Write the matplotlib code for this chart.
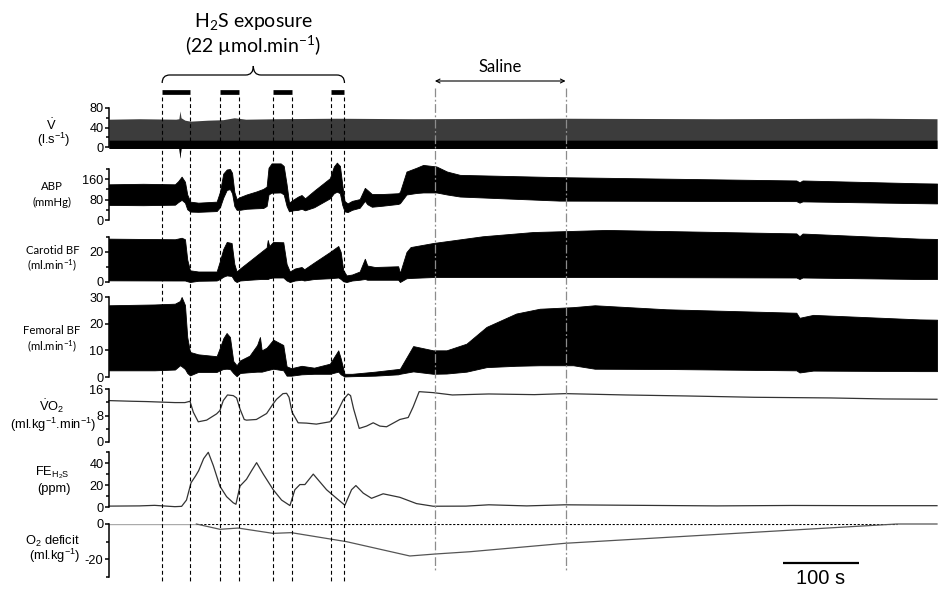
import matplotlib.pyplot as plt
from matplotlib.path import Path
from matplotlib.patches import PathPatch

plt.rcParams['font.family'] = ['Liberation Sans', 'DejaVu Sans']
plt.rcParams['mathtext.fontset'] = 'custom'
plt.rcParams['mathtext.rm'] = 'Liberation Sans'
plt.rcParams['mathtext.it'] = 'Liberation Sans:italic'
plt.rcParams['mathtext.bf'] = 'Liberation Sans:bold'
plt.rcParams['mathtext.default'] = 'regular'
plt.rcParams['axes.unicode_minus'] = False

# ---- data (time in s) ----
T_END = 1090
exp_on = [70, 146, 216, 292]
exp_off = [107, 171, 241, 310]
saline = [429, 601]
scale_bar = [887, 987]          # 100 s
deficit_zero_span = [115, 1037]

vent_t = [0, 40, 88, 92, 93.4, 94.8, 100, 107, 130, 150, 165, 180, 220, 300, 400, 600, 800, 1000, 1090]
vent_hi = [57, 58, 57, 58, 74, 60, 55, 53, 55, 56, 60, 57, 58, 59, 58, 59, 58, 59, 58]
vent_lo = [-3, -3, -3, -3, -23, -3, -3, -3, -3, -3, -3, -3, -3, -3, -3, -3, -3, -3, -3]

abp_t = [0, 45, 86.8, 91, 95.6, 100, 103, 107, 117.5, 141.7, 146, 150.4, 155, 159.2, 162, 165, 168,
         172.4, 181, 194, 203, 207.5, 210, 214, 226, 230, 233.8, 237, 242.5, 249, 253.5, 258, 270,
         290.8, 296, 300, 304, 307, 310, 314, 320, 330, 336.8, 340, 346, 360, 380.7, 383, 391.6,
         404.8, 413.6, 431, 445, 462, 593, 904.8, 909, 913, 1067, 1090]
abp_hi = [140, 142, 140, 152, 170, 150, 100, 72, 68, 72, 110, 182, 198, 200, 185, 110, 82,
          90, 100, 112, 122, 131, 205, 222, 222, 212, 140, 68, 80, 92, 98, 85, 115,
          164, 210, 225, 212, 140, 75, 65, 75, 82, 126, 118, 102, 102, 105, 110, 190,
          205, 216, 210, 190, 177, 168, 155, 148, 155, 144, 143]
abp_lo = [59, 58, 60, 70, 79, 68, 42, 33, 32, 35, 50, 88, 118, 121, 105, 55, 40,
          40, 44, 46, 47, 55, 100, 107, 108, 100, 55, 34, 38, 40, 44, 38, 50,
          85, 105, 111, 105, 60, 34, 31, 40, 48, 75, 62, 52, 56, 63, 66, 100,
          106, 108, 108, 100, 92, 76, 74, 68, 73, 66, 65]

car_t = [0, 86.8, 95.6, 100, 103, 106.6, 117.5, 141.7, 146, 150.4, 155, 161.4, 165, 168, 172.4,
         185, 200, 207.5, 209, 211, 216, 229.4, 233.8, 238, 244.7, 253.5, 257, 270, 290.8, 301.8,
         305, 308.3, 312.7, 320, 330, 336.8, 340, 350, 380.7, 383, 391.6, 397, 426.8, 492, 558,
         655, 904.8, 909, 913, 1067, 1090]
car_hi = [28.9, 28.5, 29.5, 28.5, 15, 7.8, 7, 7, 14, 22, 26.7, 26, 12, 7, 9,
          14, 20, 23, 28, 24, 26.7, 26.5, 12, 7, 9, 10, 8.5, 13, 20, 24,
          20, 8, 4.4, 5, 7, 15.5, 11, 10, 10.5, 6, 20, 23.3, 26, 30.5, 33.3,
          34.7, 32.4, 30.5, 32.3, 28.9, 28.7]
car_lo = [1.1, 1, 1, 1, 0.5, 0, 0.8, 1, 2, 3.5, 4.4, 4, 1, 0, 1,
          1.5, 2, 2, 2, 2.5, 3, 3, 1, 0, 1, 1.5, 1, 2, 2.5, 3,
          2, 0.5, 0, 1, 1.5, 2, 1.5, 1.5, 1.5, 0, 2.5, 2.7, 3.3, 3.3, 3.3,
          3.3, 3, 2, 3, 2, 2]

fem_t = [0, 60, 86.8, 93.4, 95.6, 100, 103, 106.6, 117.5, 141.7, 146, 150.4, 154.8, 159.2, 163.6,
         168, 172.4, 185, 195, 198.7, 201, 207.5, 216.2, 229.4, 233.8, 240, 253.5, 270, 290.8,
         301.8, 305, 310, 320, 350, 380.7, 383, 400.4, 426.8, 444.3, 470.6, 497, 536, 567, 611,
         639.5, 733.8, 904.8, 909, 927, 1067, 1090]
fem_hi = [26.9, 27.2, 27.5, 28.5, 30, 27, 15, 9.4, 8.5, 7.8, 11, 14.5, 16.5, 15, 6,
          4.4, 6.2, 8, 12, 15, 10, 11, 14, 12, 4, 3.3, 4.2, 3.5, 5,
          10, 7, 1.2, 1.2, 2, 3, 3.1, 11.6, 10, 10, 12.5, 18.8, 23.8, 25.6, 26.2,
          26.9, 25.4, 24.1, 22.2, 23.3, 21.6, 21.5]
fem_lo = [2.5, 2.5, 2.8, 4.4, 4, 3, 1.5, 0.6, 1.9, 1.9, 2.5, 3, 3.1, 3, 1.5,
          0.3, 1.5, 1.8, 2, 2, 2, 2.5, 3.1, 2.5, 0.5, 0.5, 1, 1.2, 1.2,
          2, 1, 0.2, 0.3, 0.5, 1, 1.2, 2.1, 1.2, 1.3, 2, 3.7, 4.2, 4.4, 4.4,
          3.1, 3, 2.5, 1.7, 2.4, 2.2, 2.2]

vo2_t = [0, 30, 50, 86.8, 100, 106.6, 111, 117.5, 128.5, 141.7, 146, 150.4, 156, 163.6, 168, 172.4,
         178, 181, 194, 207.5, 216, 220.6, 229, 233.8, 237, 241, 249, 260, 273, 290.8, 299.6, 308.3,
         314.9, 318, 322, 329.4, 339, 347.8, 356.6, 365.4, 382.9, 393.9, 400.4, 408.3, 426.8, 452,
         500, 560, 601, 680, 760, 850, 950, 1020, 1090]
vo2 = [12.5, 12.3, 12.2, 11.9, 11.9, 12.3, 9.0, 6.1, 6.6, 8.5, 9.5, 12.5, 14.2, 14.0, 13.3, 10,
       6.8, 6.6, 6.8, 8.6, 11.5, 12.9, 14.6, 14.7, 13.5, 9, 5.8, 5.7, 5.4, 6.1, 8.6, 12.7,
       14.5, 14.0, 10, 4.1, 4.8, 5.8, 4.8, 4.6, 6.8, 7.4, 10.6, 15.2, 14.9, 14.2,
       14.5, 14.3, 14.6, 14.2, 13.9, 13.5, 13.3, 13.0, 12.9]

feh2s_t = [0, 40, 60, 86.8, 95.6, 102, 108, 114, 118, 124.6, 130.7, 137.3, 146, 154.8, 163.6, 167.1,
           172.4, 181, 187.7, 194.3, 203.1, 216.2, 227.2, 238.2, 244.7, 251.3, 257.9, 268.9, 286.4,
           299.6, 310.5, 319.3, 325, 334.7, 345.6, 360.9, 382.9, 404.8, 426.8, 470, 500, 550, 600,
           700, 800, 900, 1000, 1090]
feh2s = [0.8, 1.0, 1.5, 0.3, 0.6, 6.3, 22, 28.3, 33, 44, 49.7, 37.7, 18.9, 9.4, 3.8, 2.5,
         19, 25.2, 33, 40.3, 29.9, 15.7, 6.3, 1.3, 15.7, 20.4, 20.4, 29.9, 15.7,
         7.9, 1.6, 15.7, 19.5, 12.6, 7.9, 12, 8.8, 3.1, 0.7, 0.8, 2.0, 1.0, 2.0,
         1.5, 1.0, 1.4, 1.2, 1.2]

def_t = [0, 115, 146, 170, 216, 240, 312.7, 396, 429, 475, 601, 1037, 1090]
o2_def = [0, 0, -3.0, -2.3, -5.3, -4.9, -10, -18.1, -17, -15.7, -10.9, 0, 0]

# ---- layout (pixels of the 938x591 picture) ----
W, H = 938, 591
X0, X1 = 109, 937
fig = plt.figure(figsize=(W / 100, H / 100), dpi=100)


def panel(top, bot, ylim, major, minor):
    ax = fig.add_axes([X0 / W, 1 - bot / H, (X1 - X0) / W, (bot - top) / H])
    ax.set_xlim(0, T_END)
    ax.set_ylim(*ylim)
    for s in ['top', 'right', 'bottom']:
        ax.spines[s].set_visible(False)
    ax.spines['left'].set_linewidth(1.1)
    ax.set_xticks([])
    ax.set_yticks(major)
    ax.set_yticks(minor, minor=True)
    ax.tick_params(axis='y', which='major', length=3, width=1.1, labelsize=9.2, pad=1)
    ax.tick_params(axis='y', which='minor', length=2.2, width=1.1)
    ax.patch.set_visible(False)
    return ax


ax_v = panel(108, 147, (0, 80), [0, 40, 80], [20, 60])
ax_v.fill_between(vent_t, vent_lo, vent_hi, color='#3c3c3c', lw=0, clip_on=False)
ax_v.fill_between(vent_t, vent_lo, 14, color='k', lw=0, clip_on=False)

ax_abp = panel(169, 220, (0, 200), [0, 80, 160], [40, 120, 200])
ax_abp.fill_between(abp_t, abp_lo, abp_hi, color='k', lw=0.6, clip_on=False)

ax_car = panel(237, 282, (0, 30), [0, 20], [10, 30])
ax_car.fill_between(car_t, car_lo, car_hi, color='k', lw=0.6, clip_on=False)

ax_fem = panel(297, 377, (0, 30), [0, 10, 20, 30], [])
ax_fem.fill_between(fem_t, fem_lo, fem_hi, color='k', lw=0.6, clip_on=False)

ax_vo2 = panel(389, 442, (0, 16), [0, 8, 16], [4, 12])
ax_vo2.plot(vo2_t, vo2, color='#333333', lw=0.9, clip_on=False)

ax_fe = panel(452, 507, (0, 50), [0, 20, 40], [10, 30, 50])
ax_fe.plot(feh2s_t, feh2s, color='#333333', lw=0.9, clip_on=False)

ax_def = panel(524, 577, (-30, 0), [-20, 0], [-30, -10])
ax_def.hlines(0, deficit_zero_span[0], deficit_zero_span[1], colors='k', lw=0.8,
              linestyles=(0, (2, 1.5)))
ax_def.plot(def_t[:2], o2_def[:2], color='#aaaaaa', lw=1.0)
ax_def.plot(def_t[1:], o2_def[1:], color='#555555', lw=0.9, clip_on=False)

# ---- panel labels ----
lato = dict(family='Lato', fontsize=8.2, ha='center', va='center')
arial = dict(fontsize=9.3, ha='center', va='center')
labels = [
    (51, 125, r'$\dot{V}$', arial), (54, 140, '(l.s$^{-1}$)', arial),
    (52, 186, 'ABP', lato), (52, 202, '(mmHg)', lato),
    (53, 251, 'Carotid BF', lato), (52.5, 265, '(ml.min$^{-1}$)', lato),
    (52, 330, 'Femoral BF', lato), (52.5, 346, '(ml.min$^{-1}$)', lato),
    (52, 406, r'$\dot{V}$O$_2$', arial), (53, 425, '(ml.kg$^{-1}$.min$^{-1}$)', arial),
    (52, 473, 'FE$_{H_2S}$', arial), (54, 489, '(ppm)', arial),
    (52.5, 541, 'O$_2$ deficit', arial), (55, 556, '(ml.kg$^{-1}$)', arial),
]
for x, y, s, kw in labels:
    fig.text(x / W, 1 - y / H, s, **kw)

# ---- overlay: event lines and annotations (x in s, y in pixels) ----
ov = fig.add_axes([X0 / W, 0, (X1 - X0) / W, 1])
ov.set_xlim(0, T_END)
ov.set_ylim(H, 0)
ov.axis('off')

ov.vlines(exp_on + exp_off, 97, 582, colors='k', lw=0.8, linestyles=(0, (3.5, 2.5)))
ov.vlines(saline, 88, 572, colors='#8c8c8c', lw=0.9, linestyles=(0, (7, 2, 1.5, 2)))
ov.hlines([92] * len(exp_on), exp_on, exp_off, colors='k', lw=3.4)

# brace over the exposures
bl, br = exp_on[0], exp_off[-1]
bm = (bl + br) / 2
dx = 10
verts = [(bl, 83), (bl, 75), (bl + dx, 75), (bm - dx, 75), (bm, 75), (bm, 66),
         (bm, 75), (bm + dx, 75), (br - dx, 75), (br, 75), (br, 83)]
codes = [Path.MOVETO, Path.CURVE3, Path.CURVE3, Path.LINETO, Path.CURVE3, Path.CURVE3,
         Path.CURVE3, Path.CURVE3, Path.LINETO, Path.CURVE3, Path.CURVE3]
ov.add_patch(PathPatch(Path(verts, codes), fc='none', ec='k', lw=0.9))

ov.text(bm, 21, 'H$_2$S exposure', family='Lato', fontsize=14, ha='center', va='center')
ov.text(bm, 46, '(22 µmol.min$^{-1}$)', family='Lato', fontsize=14, ha='center', va='center')

ov.annotate('', xy=(saline[0], 81), xytext=(saline[1], 81),
            arrowprops=dict(arrowstyle='<->', lw=0.8, color='k', mutation_scale=7,
                            shrinkA=0, shrinkB=0))
ov.text(sum(saline) / 2, 67, 'Saline', family='Lato', fontsize=12, ha='center', va='center')

ov.hlines(563, scale_bar[0], scale_bar[1], colors='k', lw=1.6)
ov.text(sum(scale_bar) / 2, 579, '100 s', fontsize=14.5, ha='center', va='center')

fig.savefig('out.png', dpi=100)
